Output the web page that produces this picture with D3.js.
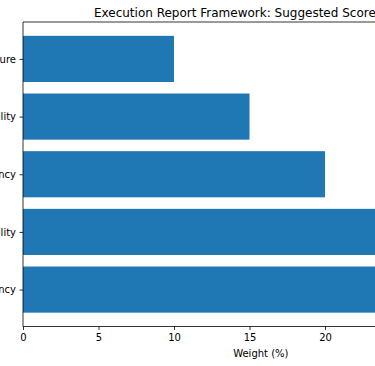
<!DOCTYPE html>
<html><head><meta charset="utf-8">
<script src="https://cdn.jsdelivr.net/npm/d3@7"></script>
<style>
html,body{margin:0;padding:0;background:#fff;overflow:hidden;}
svg{display:block;font-family:"DejaVu Sans",sans-serif;}
</style></head>
<body><svg id="c" width="375" height="366"></svg>
<script>
const categories = ["Strategy Consistency", "Reproducibility", "Transparency", "Scalability", "Risk Disclosure"];
const weights = [30, 25, 20, 15, 10];
const xTicks = [0, 5, 10, 15, 20, 25, 30];
const titleText = "Execution Report Framework: Suggested Score Weights";
const xLabel = "Weight (%)";

(function () {
const svg = d3.select("#c");
const mLeft = 23, mTop = 22, mBottom = 326.5;
const xMax = 31.5;
const pxPerUnit = 15.1;
const mRight = mLeft + xMax * pxPerUnit;

const x = d3.scaleLinear().domain([0, xMax]).range([mLeft, mRight]);
const y = d3.scaleLinear().domain([-0.64, 4.64]).range([mBottom, mTop]);

svg.append("g").selectAll("rect.bar").data(weights).join("rect")
  .attr("class", "bar")
  .attr("x", x(0))
  .attr("y", (d, i) => y(i + 0.4))
  .attr("width", d => x(d) - x(0))
  .attr("height", (d, i) => y(i - 0.4) - y(i + 0.4))
  .attr("fill", "#1f77b4");

const spine = (x1, y1, x2, y2) => svg.append("line").attr("x1", x1).attr("y1", y1).attr("x2", x2).attr("y2", y2)
  .attr("stroke", "#000").attr("stroke-width", 0.8);
spine(mLeft, mTop, mLeft, mBottom);
spine(mLeft, mTop, mRight, mTop);
spine(mLeft, mBottom, mRight, mBottom);
spine(mRight, mTop, mRight, mBottom);

const xAxis = d3.axisBottom(x).tickValues(xTicks).tickFormat(d3.format("d")).tickSize(3.5).tickPadding(3.5);
const xa = svg.append("g").attr("transform", `translate(0,${mBottom})`).call(xAxis);
xa.select(".domain").remove();
xa.selectAll("line").attr("stroke", "#000").attr("stroke-width", 0.8);
xa.selectAll("text").attr("font-size", 10).attr("fill", "#000").attr("font-family", "DejaVu Sans");

const yAxis = d3.axisLeft(y).tickValues(d3.range(categories.length)).tickFormat(i => categories[i]).tickSize(3.5).tickPadding(3.5);
const ya = svg.append("g").attr("transform", `translate(${mLeft},0)`).call(yAxis);
ya.select(".domain").remove();
ya.selectAll("line").attr("stroke", "#000").attr("stroke-width", 0.8);
ya.selectAll("text").attr("font-size", 10).attr("fill", "#000").attr("font-family", "DejaVu Sans");

svg.append("text").attr("x", (mLeft + mRight) / 2).attr("y", 357)
  .attr("text-anchor", "middle").attr("font-size", 10).attr("fill", "#000").text(xLabel);
svg.append("text").attr("x", (mLeft + mRight) / 2).attr("y", 17)
  .attr("text-anchor", "middle").attr("font-size", 12).attr("fill", "#000").text(titleText);
})();
</script></body></html>
